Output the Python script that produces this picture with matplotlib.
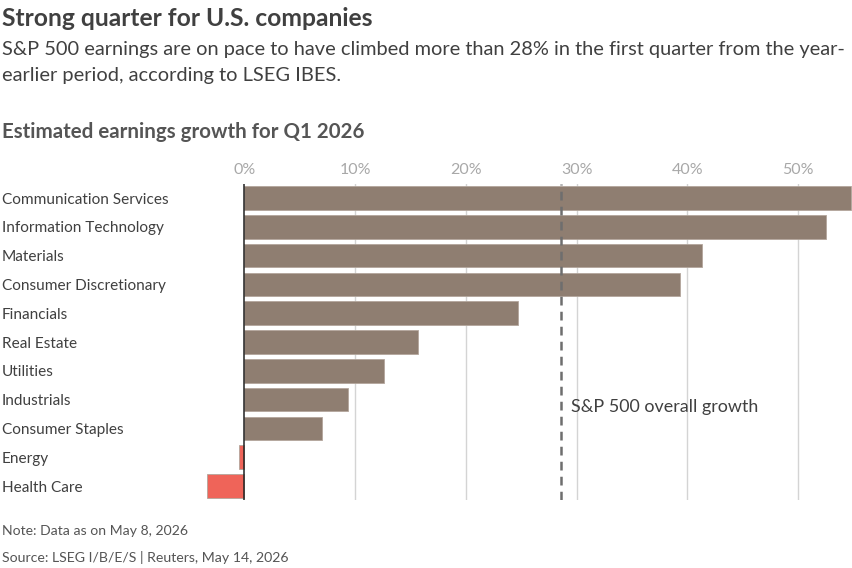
import matplotlib.pyplot as plt
from matplotlib import transforms

plt.rcParams['font.family'] = ['Lato', 'DejaVu Sans']

categories = ["Communication Services", "Information Technology", "Materials",
              "Consumer Discretionary", "Financials", "Real Estate", "Utilities",
              "Industrials", "Consumer Staples", "Energy", "Health Care"]
growth = [54.8, 52.5, 41.3, 39.3, 24.7, 15.7, 12.6, 9.4, 7.0, -0.45, -3.4]
sp500_growth = 28.55
xticks = [0, 10, 20, 30, 40, 50]
xtick_labels = ["0%", "10%", "20%", "30%", "40%", "50%"]

W, H = 853, 568
fig = plt.figure(figsize=(W / 100, H / 100), dpi=100)

# axes placed in pixel terms
left, right, top, bottom = 200, 853, 183.6, 500.4
ax = fig.add_axes([left / W, 1 - bottom / H, (right - left) / W, (bottom - top) / H])

pos = list(range(len(categories)))
colors = ['#8f7e71' if v >= 0 else '#ef6459' for v in growth]
ax.barh(pos, growth, height=0.82, color=colors, edgecolor='#b3a69c', linewidth=0.6, zorder=3)

ax.set_xlim(-4.0, 54.94)
ax.set_ylim(10.5, -0.5)

for t in xticks[1:]:
    ax.axvline(t, color='#d4d4d4', lw=1, zorder=1)
ax.axvline(0, color='#222222', lw=1.1, zorder=4)
ax.axvline(sp500_growth, color='#6e6e6e', lw=1.8, ls=(0, (3.5, 2.5)), zorder=5)
ax.text(sp500_growth + 0.9, 7.2, "S&P 500 overall growth", fontsize=12.9,
        color='#404040', va='center_baseline', ha='left', zorder=6)

ax.xaxis.tick_top()
ax.set_xticks(xticks)
ax.set_xticklabels(xtick_labels)
ax.tick_params(axis='x', length=0, pad=5, labelsize=11.5, labelcolor='#a8a8a8')
ax.set_yticks([])
for s in ax.spines.values():
    s.set_visible(False)

trans = transforms.blended_transform_factory(fig.transFigure, ax.transData)
for i, name in enumerate(categories):
    ax.text(2 / W, i, name, transform=trans, fontsize=11.1, color='#404040',
            ha='left', va='center_baseline', clip_on=False)

fig.text(2 / W, 1 - 18 / H, "Strong quarter for U.S. companies", fontsize=17.7,
         fontweight='bold', color='#404040', va='center', ha='left')
fig.text(2 / W, 1 - 49 / H, "S&P 500 earnings are on pace to have climbed more than 28% in the first quarter from the year-",
         fontsize=14.4, color='#404040', va='center', ha='left')
fig.text(2 / W, 1 - 76 / H, "earlier period, according to LSEG IBES.",
         fontsize=14.4, color='#404040', va='center', ha='left')
fig.text(2 / W, 1 - 132 / H, "Estimated earnings growth for Q1 2026", fontsize=14.8,
         fontweight='bold', color='#555555', va='center', ha='left')
fig.text(2 / W, 1 - 531 / H, "Note: Data as on May 8, 2026", fontsize=10.1,
         color='#555555', va='center', ha='left')
fig.text(2 / W, 1 - 557 / H, "Source: LSEG I/B/E/S | Reuters, May 14, 2026", fontsize=10.2,
         color='#555555', va='center', ha='left')

fig.savefig("out.png", dpi=100)
